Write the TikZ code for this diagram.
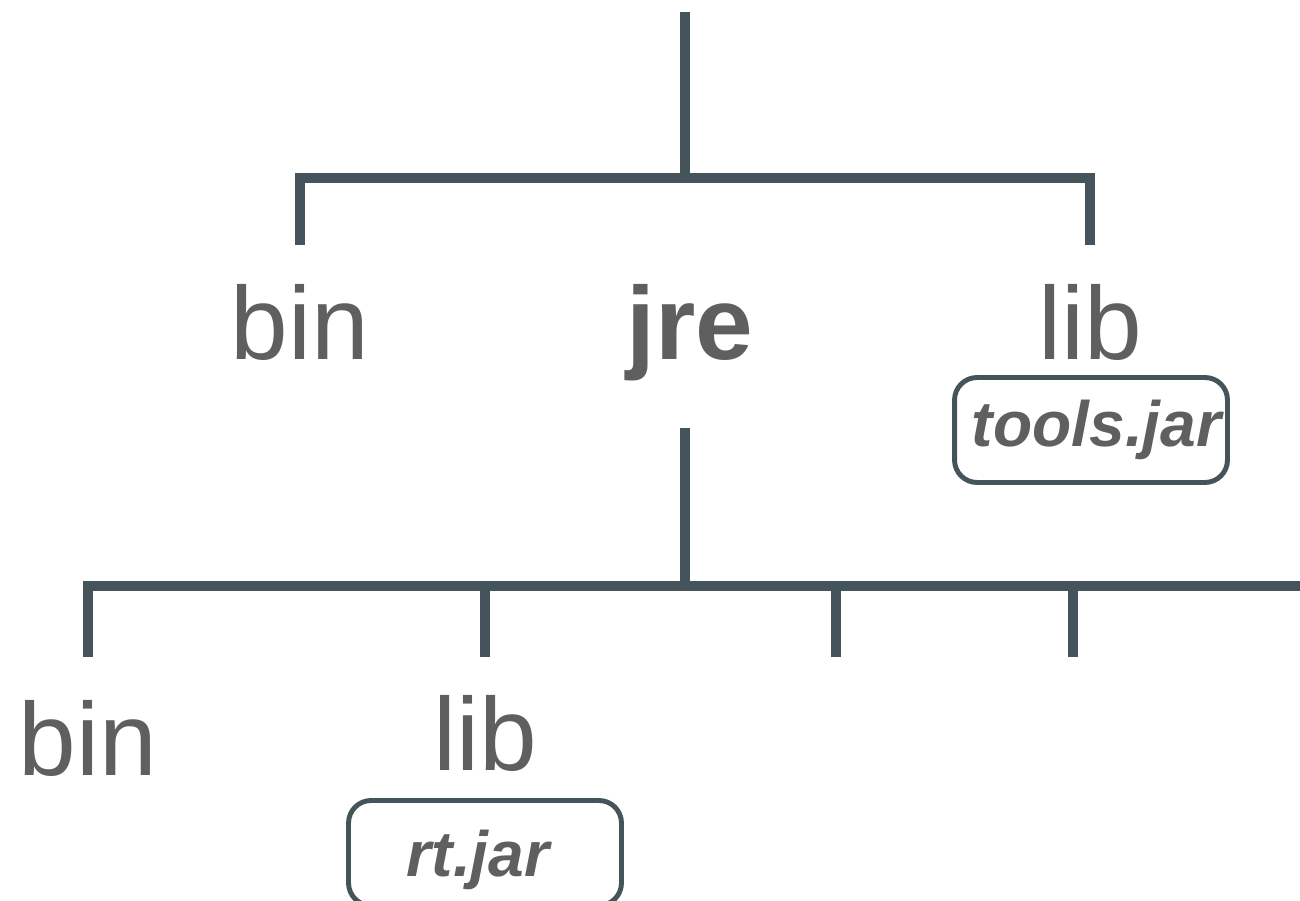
\documentclass[tikz,border=0pt]{standalone}
\usepackage{fontspec}
\setmainfont{Liberation Sans}
\definecolor{stemgray}{HTML}{45545B}
\definecolor{labelgray}{HTML}{5F5F5F}
\tikzset{
  stem/.style={line width=5.9pt, draw=stemgray},
  folder/.style={text=labelgray, inner sep=0pt, anchor=base, font=\fontsize{59}{60}\selectfont},
  jarbox/.style={draw=stemgray, line width=2.8pt, rounded corners=0.45cm, text=labelgray,
    minimum width=5.46cm, minimum height=2.1cm, inner sep=0pt,
    font=\fontsize{36.5}{40}\selectfont\bfseries\itshape}
}
\begin{document}
\begin{tikzpicture}[x=0.02cm, y=-0.02cm]
\useasboundingbox (0,0) rectangle (1300,901);

% JDK folders
\node[folder] (bin) at (300,360) {bin};
\node[folder, font=\fontsize{59}{60}\selectfont\bfseries] (jre) at (690,360) {jre};
\node[folder] (lib) at (1090,360) {lib};
\node[jarbox] (tools) at (1091,430) {\hspace*{0.22cm}tools.jar};

% JRE folders
\node[folder] (jrebin) at (88,775) {bin};
\node[folder] (jrelib) at (485,770) {lib};
\node[jarbox, text depth=0pt] (rt) at (485,853) {\hspace*{-0.28cm}rt.jar};

% tree lines at the top
\coordinate (jdk) at (685,12);
\coordinate (jdkfork) at (685,178);
\coordinate (jdktip) at (0,245);
\draw[stem] (jdk) -- (jdkfork);
\draw[stem] (bin |- jdktip) |- (jdkfork) -| (lib |- jdktip);

% tree lines below jre
\coordinate (jretop) at (0,428);
\coordinate (jrefork) at (685,586);
\coordinate (jretip) at (0,657);
\coordinate (slot3) at (836,0);
\coordinate (slot4) at (1073,0);
\coordinate (slot5) at (1310,0);
\draw[stem] (jrefork |- jretop) -- (jrefork);
\draw[stem] (jrebin |- jretip) |- (jrefork) -- (slot5 |- jrefork);
\foreach \d in {jrelib, slot3, slot4, slot5}
  \draw[stem] (\d |- jrefork) -- (\d |- jretip);
\end{tikzpicture}
\end{document}
